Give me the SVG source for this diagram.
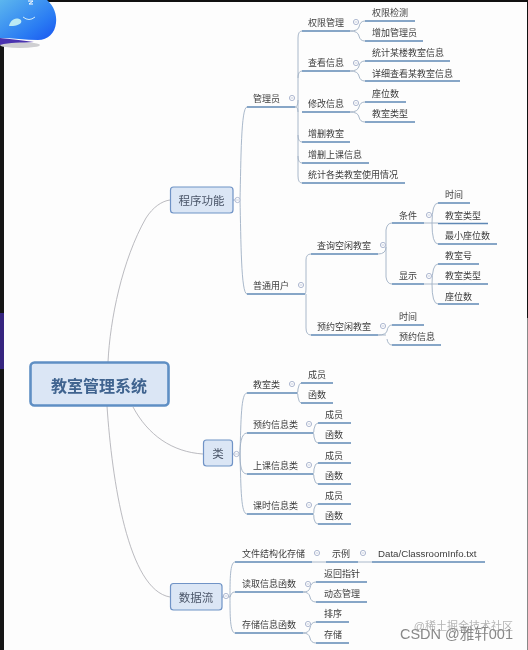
<svg xmlns="http://www.w3.org/2000/svg" width="528" height="650" viewBox="0 0 528 650">
<style>
text{font-family:"Noto Sans CJK SC","Liberation Sans",sans-serif;font-size:9px;fill:#3c3c3c;text-anchor:start;dominant-baseline:central}
.u{stroke:#5f88b5;stroke-width:1.5;fill:none}
.c{stroke:#9fb0c4;stroke-width:.9;fill:none}
.m{stroke:#a9a9b0;stroke-width:.8;fill:none}
.b{fill:#dbe6f5;stroke:#6f93c6;stroke-width:1.2}
.t1{font-size:11.5px;fill:#4a5568;text-anchor:middle}
.o{fill:#fff;stroke:#aeb8d0;stroke-width:1}
.w{font-size:14.5px;fill:#888;text-anchor:end;font-family:"Liberation Sans","Noto Sans CJK SC",sans-serif}
</style>
<defs>
<g id="t"><circle class="o" r="2.6"/><path d="M-1.4 0H1.4" stroke="#aeb8d0" stroke-width=".7"/></g>
<linearGradient id="g" x1="0" y1="0" x2="1" y2="1"><stop offset="0" stop-color="#5cb6ee"/><stop offset=".65" stop-color="#2a7cf3"/><stop offset="1" stop-color="#1a55f0"/></linearGradient>
<filter id="s" x="-2%" y="-2%" width="104%" height="104%"><feGaussianBlur stdDeviation=".3"/></filter>
</defs>
<rect width="528" height="650" fill="#fdfdfd"/>
<g id="frame">
<rect width="528" height="2" fill="#111"/>
<rect y="45" width="4" height="605" fill="#161616"/>
<rect y="313" width="4" height="56" fill="#36257f"/>
<rect x="527" width="1" height="318" fill="#111"/>
<rect x="527" y="318" width="1" height="332" fill="#888"/>
</g>
<g id="mascot">
<ellipse cx="20" cy="45" rx="20" ry="3" fill="#cfcfd2"/>
<path d="M0 38C14 39 24 41 34 42C20 43 10 42 0 45Z" fill="#4a33b0"/>
<path d="M0 0H47C54 6 57 15 56 23C55 33 48 40 38 40C26 40 12 38 0 38Z" fill="url(#g)"/>
<path d="M9 26C10 21 15 16 21 20C23 24 16 26 11 26Z" fill="#bdeaf3"/>
<path d="M23 17Q29 22 35 17" stroke="#d5eef7" stroke-width="1" fill="none"/>
<path d="M28 1H33L29 4H33" stroke="#fff" stroke-width="1" fill="none"/>
</g>
<g filter="url(#s)">
<g id="connectors">
<path class="m" d="M108 362C110 320 122 260 146 218C153 207 162 201 170 200"/>
<path class="m" d="M133 407C148 435 172 452 203 454"/>
<path class="m" d="M107 406C112 480 128 590 170 597"/>
<path class="c" d="M233 200H240M240 200C241 160 241 107 247 107M240 200C241 240 241 294 247 294"/>
<path class="c" d="M233 454H240M247 393C241 393 241 420 240 454C241 490 241 514 247 514M247 433C241 433 240 445 240 454C240 465 241 474 247 474"/>
<path class="c" d="M222 597H230M235 562C230 562 230 580 230 597C230 615 230 633 235 633M230 597C231 594 232 592 235 592"/>
<path class="c" d="M295 107Q298 107 298 100V38Q298 31 302 31M298 78Q298 71 302 71M295 107Q298 107 298 112M298 100V135Q298 142 302 142M298 135V156Q298 163 302 163M298 156V176Q298 183 302 183"/>
<path class="c" d="M350 31Q358 31 359 27Q360 21 365 21M350 31Q358 31 359 36Q360 41 365 41M350 71Q358 71 359 66Q360 61 365 61M350 71Q358 71 359 76Q360 81 365 81M350 112Q358 112 359 107Q360 102 365 102M350 112Q358 112 359 117Q360 122 365 122"/>
<path class="c" d="M305 294Q306 294 306 287V260Q306 254 311 254M306 294V328Q306 335 311 335"/>
<path class="c" d="M378 254Q386 254 386 247V230Q387 223 392 223M386 247V277Q387 284 392 284M378 335Q386 335 387 331Q388 325 392 325M387 339Q388 345 392 345M378 335H386"/>
<path class="c" d="M424 223H432M432 223Q432 203 438 203M432 223Q432 244 438 244M432 223H438M424 284H438M432 284Q432 264 438 264M432 284Q432 304 438 304"/>
<path class="c" d="M297 393Q298 393 298 389Q299 383 301 383M297 393Q298 393 298 397Q299 403 301 403M313 433Q314 433 314 429Q315 423 318 423M313 433Q314 433 314 437Q315 443 318 443M313 474Q314 474 314 469Q315 463 318 463M313 474Q314 474 314 478Q315 484 318 484M313 514Q314 514 314 509Q315 504 318 504M313 514Q314 514 314 519Q315 524 318 524"/>
<path class="c" d="M312 562H326M358 562H372M303 592Q309 592 310 588Q311 582 316 582M303 592Q309 592 310 597Q311 602 316 602M303 633Q309 633 310 628Q311 622 316 622M303 633Q309 633 310 638Q311 643 316 643"/>
</g>
<g id="root"><rect x="30.500" y="362.500" width="138" height="43" rx="4" fill="#dbe6f5" stroke="#5f8fc4" stroke-width="2.600"/><text x="99" y="384.500" style="font-size:16px;font-weight:700;fill:#3f648f;text-anchor:middle">教室管理系统</text></g>
<g id="n-program"><rect class="b" x="170.500" y="187" width="62.500" height="26" rx="3"/><text class="t1" x="201.500" y="200">程序功能</text><use href="#t" x="237.500" y="200"/></g>
<g id="n-class"><rect class="b" x="203.500" y="440" width="29" height="26" rx="3"/><text class="t1" x="218" y="453">类</text><use href="#t" x="236.500" y="454"/></g>
<g id="n-flow"><rect class="b" x="170.500" y="583.500" width="51.500" height="26.500" rx="3"/><text class="t1" x="196" y="597">数据流</text><use href="#t" x="226" y="596"/></g>

<g id="n-admin"><text x="253" y="98">管理员</text><path class="u" d="M247 107H295"/><use href="#t" x="292" y="98"/></g>
<g id="n-perm"><text x="308" y="22">权限管理</text><path class="u" d="M302 31H350"/><use href="#t" x="356" y="22"/></g>
<g id="n-perm1"><text x="372" y="12">权限检测</text><path class="u" d="M365 21H415"/></g>
<g id="n-perm2"><text x="372" y="32">增加管理员</text><path class="u" d="M365 41H423"/></g>
<g id="n-view"><text x="308" y="62">查看信息</text><path class="u" d="M302 71H350"/><use href="#t" x="356" y="63"/></g>
<g id="n-view1"><text x="372" y="52">统计某楼教室信息</text><path class="u" d="M365 61H450"/></g>
<g id="n-view2"><text x="372" y="73">详细查看某教室信息</text><path class="u" d="M365 81H460"/></g>
<g id="n-edit"><text x="308" y="103">修改信息</text><path class="u" d="M302 112H350"/><use href="#t" x="356" y="103"/></g>
<g id="n-edit1"><text x="372" y="93">座位数</text><path class="u" d="M365 102H406"/></g>
<g id="n-edit2"><text x="372" y="113">教室类型</text><path class="u" d="M365 122H415"/></g>
<g id="n-room"><text x="308" y="133">增删教室</text><path class="u" d="M302 142H350"/></g>
<g id="n-lesson"><text x="308" y="154">增删上课信息</text><path class="u" d="M302 163H369"/></g>
<g id="n-stat"><text x="308" y="174">统计各类教室使用情况</text><path class="u" d="M302 183H405"/></g>

<g id="n-user"><text x="253" y="285">普通用户</text><path class="u" d="M247 294H305"/><use href="#t" x="301" y="285"/></g>
<g id="n-query"><text x="317" y="245">查询空闲教室</text><path class="u" d="M311 254H378"/><use href="#t" x="383" y="245"/></g>
<g id="n-cond"><text x="399" y="215">条件</text><path class="u" d="M392 223H424"/><use href="#t" x="429" y="215"/></g>
<g id="n-cond1"><text x="445" y="194.500">时间</text><path class="u" d="M438 203H470"/></g>
<g id="n-cond2"><text x="445" y="215">教室类型</text><path class="u" d="M438 223.500H488"/></g>
<g id="n-cond3"><text x="445" y="235">最小座位数</text><path class="u" d="M438 244H497"/></g>
<g id="n-show"><text x="399" y="275.500">显示</text><path class="u" d="M392 284H424"/><use href="#t" x="429" y="276"/></g>
<g id="n-show1"><text x="445" y="255">教室号</text><path class="u" d="M438 264H479"/></g>
<g id="n-show2"><text x="445" y="275.500">教室类型</text><path class="u" d="M438 284H488"/></g>
<g id="n-show3"><text x="445" y="296">座位数</text><path class="u" d="M438 304H479"/></g>
<g id="n-book"><text x="317" y="326">预约空闲教室</text><path class="u" d="M311 335H378"/><use href="#t" x="383" y="326"/></g>
<g id="n-book1"><text x="399" y="316">时间</text><path class="u" d="M392 325H424"/></g>
<g id="n-book2"><text x="399" y="336">预约信息</text><path class="u" d="M392 345H441"/></g>

<g id="n-c1"><text x="253" y="384">教室类</text><path class="u" d="M247 393H297"/><use href="#t" x="292" y="384"/></g>
<g id="n-c1a"><text x="308" y="374">成员</text><path class="u" d="M301 383H333"/></g>
<g id="n-c1b"><text x="308" y="394">函数</text><path class="u" d="M301 403H333"/></g>
<g id="n-c2"><text x="253" y="424">预约信息类</text><path class="u" d="M247 433H313"/><use href="#t" x="309" y="424"/></g>
<g id="n-c2a"><text x="325" y="414">成员</text><path class="u" d="M318 423H351"/></g>
<g id="n-c2b"><text x="325" y="434">函数</text><path class="u" d="M318 443H351"/></g>
<g id="n-c3"><text x="253" y="465">上课信息类</text><path class="u" d="M247 474H313"/><use href="#t" x="309" y="465"/></g>
<g id="n-c3a"><text x="325" y="455">成员</text><path class="u" d="M318 463H351"/></g>
<g id="n-c3b"><text x="325" y="475">函数</text><path class="u" d="M318 484H351"/></g>
<g id="n-c4"><text x="253" y="505">课时信息类</text><path class="u" d="M247 514H313"/><use href="#t" x="309" y="505"/></g>
<g id="n-c4a"><text x="325" y="495">成员</text><path class="u" d="M318 504H351"/></g>
<g id="n-c4b"><text x="325" y="515">函数</text><path class="u" d="M318 524H351"/></g>

<g id="n-file"><text x="242" y="553">文件结构化存储</text><path class="u" d="M235 562H312"/><use href="#t" x="317" y="553"/></g>
<g id="n-eg"><text x="332" y="553">示例</text><path class="u" d="M326 562H358"/><use href="#t" x="363" y="553"/></g>
<g id="n-path"><text x="378" y="553" style="font-family:'Liberation Sans',sans-serif;font-size:9.700px">Data/ClassroomInfo.txt</text><path class="u" d="M372 562H485"/></g>
<g id="n-read"><text x="242" y="583">读取信息函数</text><path class="u" d="M235 592H303"/><use href="#t" x="308" y="584"/></g>
<g id="n-read1"><text x="324" y="573">返回指针</text><path class="u" d="M316 582H367"/></g>
<g id="n-read2"><text x="324" y="593">动态管理</text><path class="u" d="M316 602H367"/></g>
<g id="n-save"><text x="242" y="624">存储信息函数</text><path class="u" d="M235 633H303"/><use href="#t" x="308" y="624"/></g>
<g id="n-save1"><text x="324" y="613">排序</text><path class="u" d="M316 622H349"/></g>
<g id="n-save2"><text x="324" y="634">存储</text><path class="u" d="M316 643H349"/></g>

<g id="watermark"><text class="w" x="513" y="626" style="font-size:11px;fill:#b5b5b5">@稀土掘金技术社区</text><text class="w" x="513" y="634">CSDN @雅轩001</text></g>
</g>
</svg>
